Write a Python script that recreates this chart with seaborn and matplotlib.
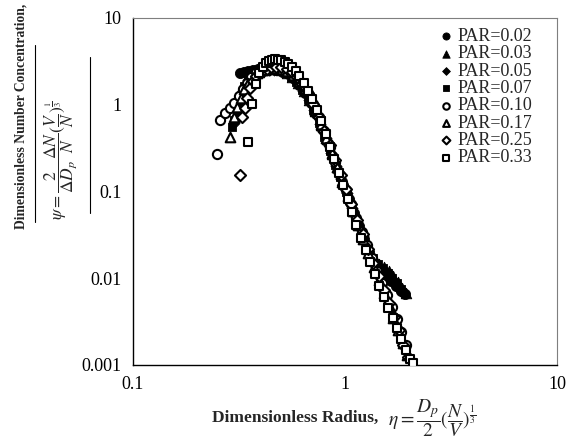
import matplotlib
matplotlib.use('Agg')
import matplotlib.pyplot as plt
import seaborn as sns
from matplotlib.lines import Line2D
from matplotlib.ticker import NullLocator, NullFormatter

# values (log-log)
x_002 = [0.32, 0.335, 0.35, 0.37, 0.39, 0.41, 0.43, 0.455, 0.48, 0.51, 0.54, 0.57, 0.61, 0.65, 0.69, 0.73, 0.78,
         0.83, 0.88, 0.93, 0.98, 1.04, 1.10, 1.16, 1.23, 1.30, 1.38, 1.46, 1.55, 1.64, 1.74, 1.84, 1.92]
y_002 = [2.3, 2.4, 2.45, 2.5, 2.55, 2.6, 2.6, 2.6, 2.55, 2.45, 2.3, 2.05, 1.7, 1.35, 1.05, 0.78, 0.53,
         0.36, 0.25, 0.17, 0.12, 0.082, 0.056, 0.040, 0.028, 0.020, 0.015, 0.0125, 0.0108, 0.0094, 0.0082, 0.0072, 0.0065]

x_003 = [0.305, 0.315, 0.325, 0.34, 0.355, 0.375, 0.395, 0.42, 0.445, 0.47, 0.50, 0.53, 0.565, 0.60, 0.64, 0.68,
         0.72, 0.77, 0.82, 0.87, 0.92, 0.97, 1.03, 1.09, 1.15, 1.22, 1.29, 1.37, 1.45, 1.53, 1.61, 1.69, 1.77, 1.85, 1.93]
y_003 = [0.75, 1.1, 1.5, 1.9, 2.15, 2.3, 2.4, 2.5, 2.55, 2.55, 2.5, 2.35, 2.1, 1.8, 1.45, 1.12,
         0.85, 0.58, 0.40, 0.27, 0.19, 0.135, 0.092, 0.062, 0.043, 0.030, 0.022, 0.017, 0.0145, 0.0135, 0.012, 0.0105,
         0.009, 0.0078, 0.0068]

x_005 = [0.30, 0.31, 0.32, 0.335, 0.35, 0.37, 0.39, 0.415, 0.44, 0.465, 0.495, 0.525, 0.56, 0.595, 0.635, 0.675,
         0.715, 0.76, 0.81, 0.86, 0.91, 0.96, 1.02, 1.08, 1.14, 1.21, 1.28, 1.36, 1.44, 1.52, 1.60, 1.68, 1.76, 1.84]
y_005 = [0.62, 0.85, 1.2, 1.6, 1.95, 2.2, 2.35, 2.45, 2.5, 2.5, 2.45, 2.3, 2.1, 1.8, 1.45, 1.12,
         0.86, 0.60, 0.41, 0.28, 0.195, 0.14, 0.095, 0.064, 0.045, 0.031, 0.022, 0.016, 0.0135, 0.0125, 0.011, 0.0095,
         0.0082, 0.0071]

x_007 = [0.293, 0.30, 0.31, 0.32, 0.335, 0.35, 0.37, 0.39, 0.41, 0.435, 0.46, 0.49, 0.52, 0.555, 0.59, 0.63, 0.67,
         0.71, 0.755, 0.80, 0.85, 0.90, 0.95, 1.01, 1.07, 1.13, 1.20, 1.27, 1.35, 1.43, 1.51, 1.59, 1.67, 1.75, 1.83]
y_007 = [0.56, 0.67, 0.9, 1.25, 1.65, 1.95, 2.2, 2.35, 2.45, 2.5, 2.5, 2.45, 2.3, 2.1, 1.82, 1.48, 1.15,
         0.88, 0.62, 0.43, 0.29, 0.2, 0.145, 0.098, 0.066, 0.046, 0.032, 0.023, 0.017, 0.0145, 0.013, 0.0115, 0.01,
         0.0088, 0.0076]

x_010 = [0.25, 0.257, 0.271, 0.287, 0.30, 0.315, 0.33, 0.345, 0.36, 0.38, 0.40, 0.42, 0.445, 0.47, 0.50, 0.53, 0.56,
         0.595, 0.63, 0.67, 0.71, 0.755, 0.80, 0.85, 0.90, 0.95, 1.01, 1.07, 1.13, 1.20, 1.27, 1.34, 1.42, 1.50, 1.58,
         1.66, 1.75, 1.84, 1.93]
y_010 = [0.27, 0.67, 0.81, 0.92, 1.05, 1.25, 1.5, 1.8, 2.1, 2.4, 2.65, 2.8, 2.9, 2.95, 2.9, 2.75, 2.5,
         2.15, 1.75, 1.35, 1.02, 0.72, 0.5, 0.33, 0.22, 0.155, 0.105, 0.072, 0.049, 0.034, 0.024, 0.017, 0.0122, 0.0088,
         0.0064, 0.0047, 0.0034, 0.0024, 0.0017]

x_017 = [0.287, 0.30, 0.31, 0.322, 0.335, 0.35, 0.367, 0.385, 0.405, 0.425, 0.45, 0.475, 0.505, 0.535, 0.57, 0.605,
         0.645, 0.685, 0.725, 0.77, 0.815, 0.865, 0.915, 0.97, 1.03, 1.09, 1.15, 1.22, 1.29, 1.37, 1.45, 1.53, 1.61,
         1.69, 1.78, 1.87, 1.96]
y_017 = [0.43, 0.72, 0.95, 1.2, 1.5, 1.8, 2.05, 2.3, 2.5, 2.6, 2.65, 2.65, 2.6, 2.45, 2.2, 1.9,
         1.5, 1.15, 0.87, 0.6, 0.41, 0.28, 0.19, 0.13, 0.088, 0.06, 0.041, 0.028, 0.0195, 0.0135, 0.0095, 0.0068, 0.0049,
         0.0035, 0.0025, 0.0018, 0.0013]

x_025 = [0.32, 0.327, 0.337, 0.345, 0.356, 0.368, 0.38, 0.395, 0.41, 0.43, 0.45, 0.475, 0.50, 0.53, 0.56, 0.595,
         0.63, 0.67, 0.71, 0.755, 0.80, 0.85, 0.90, 0.955, 1.01, 1.07, 1.14, 1.21, 1.28, 1.36, 1.44, 1.52, 1.61, 1.70,
         1.79, 1.88, 1.98]
y_025 = [0.155, 0.73, 0.92, 1.2, 1.57, 1.9, 2.15, 2.35, 2.5, 2.6, 2.7, 2.75, 2.7, 2.6, 2.4, 2.1,
         1.75, 1.35, 1.03, 0.73, 0.5, 0.34, 0.23, 0.155, 0.106, 0.071, 0.047, 0.032, 0.022, 0.015, 0.0105, 0.0074,
         0.0052, 0.0036, 0.0025, 0.0017, 0.00125]

x_033 = [0.349, 0.364, 0.38, 0.395, 0.41, 0.425, 0.44, 0.455, 0.47, 0.485, 0.50, 0.52, 0.54, 0.56, 0.585, 0.61,
         0.64, 0.67, 0.70, 0.735, 0.77, 0.81, 0.85, 0.89, 0.935, 0.98, 1.03, 1.08, 1.13, 1.19, 1.25, 1.31, 1.38, 1.45,
         1.52, 1.60, 1.68, 1.76, 1.84, 1.93, 2.02, 2.09]
y_033 = [0.37, 1.03, 1.75, 2.3, 2.7, 3.0, 3.2, 3.3, 3.35, 3.3, 3.25, 3.1, 2.95, 2.75, 2.45, 2.15,
         1.8, 1.45, 1.15, 0.88, 0.65, 0.46, 0.33, 0.235, 0.165, 0.118, 0.082, 0.058, 0.041, 0.029, 0.021, 0.0155,
         0.0112, 0.0082, 0.006, 0.0045, 0.0035, 0.0027, 0.002, 0.0015, 0.00118, 0.00105]

labels = ['PAR=0.02', 'PAR=0.03', 'PAR=0.05', 'PAR=0.07', 'PAR=0.10', 'PAR=0.17', 'PAR=0.25', 'PAR=0.33']
xs_all = [x_002, x_003, x_005, x_007, x_010, x_017, x_025, x_033]
ys_all = [y_002, y_003, y_005, y_007, y_010, y_017, y_025, y_033]

markers = ['o', '^', 'D', 's', 'o', '^', 'D', 's']
sizes = [54, 58, 32, 38, 44, 48, 32, 36]
filled = [True, True, True, True, False, False, False, False]

sns.set_style('white')
plt.rcParams['font.family'] = ['Liberation Serif', 'DejaVu Serif']
plt.rcParams['mathtext.fontset'] = 'stix'

fig = plt.figure(figsize=(5.69, 4.45), dpi=100)
ax = fig.add_axes([0.2337, 0.1798, 0.7452, 0.7798])

for i in range(len(labels)):
    sns.scatterplot(x=xs_all[i], y=ys_all[i], ax=ax, marker=markers[i], s=sizes[i],
                    color='black' if filled[i] else 'white', edgecolor='black',
                    linewidth=0.6 if filled[i] else 1.5, label=labels[i], zorder=3 + i)

ax.set_xscale('log')
ax.set_yscale('log')
ax.set_xlim(0.1, 10)
ax.set_ylim(0.001, 10)
ax.set_xticks([0.1, 1, 10])
ax.set_xticklabels(['0.1', '1', '10'])
ax.set_yticks([0.001, 0.01, 0.1, 1, 10])
ax.set_yticklabels(['0.001', '0.01', '0.1', '1', '10'])
ax.xaxis.set_minor_formatter(NullFormatter())
ax.yaxis.set_minor_locator(NullLocator())
ax.tick_params(axis='both', which='major', direction='in', length=5, width=0.8, pad=8,
               labelsize=13, colors='black')
ax.tick_params(axis='x', which='minor', direction='in', length=3, width=0.8)
ax.set_xlabel('')
ax.set_ylabel('')

for side in ['left', 'bottom']:
    ax.spines[side].set_color('black')
    ax.spines[side].set_linewidth(1.0)
for side in ['top', 'right']:
    ax.spines[side].set_color('#7f7f7f')
    ax.spines[side].set_linewidth(0.8)

leg = ax.legend(loc='upper left', bbox_to_anchor=(0.69, 1.0), frameon=False, fontsize=13,
                handletextpad=0.0, labelspacing=0.02, borderaxespad=0.15, handlelength=1.2,
                markerscale=0.7)

# axis titles
fig.text(0.037, 0.739, 'Dimensionless Number Concentration,', rotation=90, ha='center', va='center',
         fontsize=9.8, fontweight='bold')
fig.text(0.108, 0.64, r'$\psi=\dfrac{2}{\Delta D_p}\dfrac{\Delta N}{N}(\dfrac{V}{N})^{\frac{1}{3}}$',
         rotation=90, ha='center', va='center', fontsize=12.5)
fig.add_artist(Line2D([35 / 569, 35 / 569], [1 - 45 / 445, 1 - 222 / 445], transform=fig.transFigure,
                      color='black', lw=0.8))
fig.add_artist(Line2D([90 / 569, 90 / 569], [1 - 57 / 445, 1 - 213 / 445], transform=fig.transFigure,
                      color='black', lw=0.8))

fig.text(378 / 569, 0.06, 'Dimensionless Radius,', ha='right', va='center',
         fontsize=12.5, fontweight='bold')
fig.text(388 / 569, 0.06, r'$\eta=\dfrac{D_p}{2}(\dfrac{N}{V})^{\frac{1}{3}}$', ha='left', va='center',
         fontsize=14)

fig.savefig('out.png', dpi=100)
